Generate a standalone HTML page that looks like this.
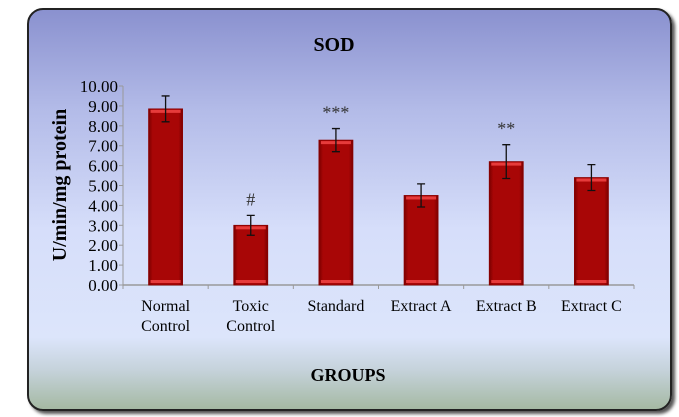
<!DOCTYPE html>
<html><head><meta charset="utf-8"><style>
html,body{margin:0;padding:0;background:#fff;width:679px;height:417px;overflow:hidden}
#frame{position:absolute;left:27px;top:8px;width:641px;height:399px;border:2px solid #222;border-radius:16px;
background:linear-gradient(to bottom,#8a91cf 0%,#b3bbe8 25%,#d6defa 55%,#dce5fb 82%,#c6d3dc 90%,#a5b9a3 100%);
box-shadow:3px 3px 3px #555;}
svg{position:absolute;left:0;top:0}
text{font-family:"Liberation Serif",serif}
</style></head><body>
<div id="frame"></div>
<svg id="chart" width="679" height="417">
<defs>
<linearGradient id="bg" x1="0" x2="1" y1="0" y2="0">
<stop offset="0" stop-color="#7a0000"/><stop offset="0.12" stop-color="#a80606"/><stop offset="0.88" stop-color="#a80606"/><stop offset="1" stop-color="#7a0000"/>
</linearGradient>
</defs>
<text x="334" y="51" text-anchor="middle" font-size="20" font-weight="bold">SOD</text>
<text transform="translate(66,185) rotate(-90)" text-anchor="middle" font-size="20" font-weight="bold">U/min/mg protein</text>
<text x="348" y="381" text-anchor="middle" font-size="18" font-weight="bold">GROUPS</text>
<g id="plot"></g>
</svg>
<script>
const categories=[["Normal","Control"],["Toxic","Control"],["Standard"],["Extract A"],["Extract B"],["Extract C"]];
const values=[8.85,3.0,7.28,4.5,6.2,5.4];
const errors=[0.65,0.5,0.58,0.58,0.85,0.65];
const marks=["","#","***","","**",""];
const yTicks=[0,1,2,3,4,5,6,7,8,9,10];
const X0=123,X1=634,Y0=285,Y10=86;
const n=categories.length,bw=(X1-X0)/n;
const y=v=>Y0-(v/10)*(Y0-Y10);
const xc=i=>X0+bw*(i+0.5);
const g=document.getElementById('plot');
const NS="http://www.w3.org/2000/svg";
function mk(t,a,txt){const e=document.createElementNS(NS,t);for(const k in a)e.setAttribute(k,a[k]);if(txt!==undefined)e.textContent=txt;g.appendChild(e);return e;}
let ax=mk('line',{x1:X0,x2:X0,y1:Y10,y2:Y0,stroke:'#999','stroke-width':1});


let bx=mk('line',{x1:X0,x2:X1,y1:Y0,y2:Y0,stroke:'#999','stroke-width':1.5});


yTicks.forEach(t=>{
 mk('line',{x1:X0-4,x2:X0,y1:y(t),y2:y(t),stroke:'#999'});
 let l=mk('text',{x:X0-5,y:y(t)+6,'text-anchor':'end','font-size':17},t.toFixed(2));
 
 
});
for(let i=0;i<=n;i++)mk('line',{x1:X0+bw*i,x2:X0+bw*i,y1:Y0,y2:Y0+4,stroke:'#999'});
values.forEach((v,i)=>{
 const w=34,x=xc(i)-w/2,top=y(v);
 let b=mk('rect',{x:x,y:top,width:w,height:Y0-top,fill:'url(#bg)',stroke:'#8a0000','stroke-width':0.8});
 
 
 mk('rect',{x:x+2,y:top+1,width:w-4,height:3,fill:'#e63b3b'});
 mk('rect',{x:x+2,y:Y0-5,width:w-4,height:3,fill:'#e63b3b'});
 const hi=y(v+errors[i]),lo=y(v-errors[i]);
 let e=mk('path',{d:`M${xc(i)},${hi}V${lo}M${xc(i)-4},${hi}h8M${xc(i)-4},${lo}h8`,stroke:'#111','stroke-width':1.3,fill:'none'});
 
 
 if(marks[i]){let m=mk('text',{x:xc(i),y:hi-10,'text-anchor':'middle','font-size':18,fill:'#333'},marks[i]);
 
 }
 categories[i].forEach((s,j)=>{let t=mk('text',{x:xc(i),y:311+j*20,'text-anchor':'middle','font-size':16},s);
 
 });
});
</script>
</body></html>
